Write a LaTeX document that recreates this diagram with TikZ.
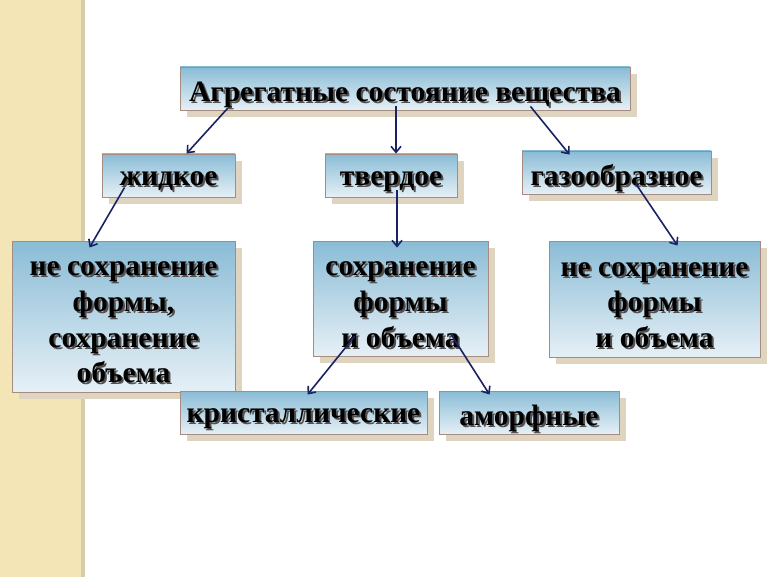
\documentclass[tikz,border=0pt]{standalone}
\usepackage{fontspec}
\setmainfont{Liberation Serif}
\usepackage{xcolor}
\usetikzlibrary{arrows, arrows.meta, shadows, positioning}

\definecolor{stripe}{RGB}{243,229,182}
\definecolor{stripeline}{RGB}{214,206,170}
\definecolor{boxtop}{RGB}{138,188,214}
\definecolor{boxbottom}{RGB}{230,240,246}
\definecolor{boxline}{RGB}{165,140,128}
\definecolor{boxshadow}{RGB}{222,212,192}
\definecolor{arrowcol}{RGB}{25,35,100}
\definecolor{txtshadow}{RGB}{85,80,80}

% text with a dark offset shadow, set a little low in its box
\newcommand{\shtxt}[1]{\raisebox{-7pt}[\height][\depth]{\rlap{\hspace{2pt}\raisebox{-2pt}{\textcolor{txtshadow}{#1}}}#1}}

\tikzset{
    statebox/.style={draw=boxline, line width=0.9pt, top color=boxtop, bottom color=boxbottom,
        drop shadow={shadow xshift=7pt, shadow yshift=-7pt, fill=boxshadow, opacity=1},
        align=center, inner sep=0pt, font=\fontsize{29.5}{35.7}\selectfont\bfseries},
    arr/.style={-{Straight Barb[length=6pt,width=10pt]}, draw=arrowcol, line width=1.6pt}
}

\begin{document}
\begin{tikzpicture}[x=1pt, y=-1pt]
    \useasboundingbox (0,0) rectangle (770,577);
    \fill[stripe] (0,0) rectangle (81,577);
    \fill[stripeline] (81,0) rectangle (85,577);

    \node[statebox, minimum width=450pt, minimum height=43pt] (title) at (405,88.5) {\shtxt{Агрегатные состояние вещества}};
    \node[statebox, minimum width=133pt, minimum height=43pt] (zhid) at (168.5,175.5) {\shtxt{жидкое}};
    \node[statebox, minimum width=132pt, minimum height=43pt] (tverd) at (391,175.5) {\shtxt{твердое}};
    \node[statebox, minimum width=189pt, minimum height=43pt] (gaz) at (616.5,172.5) {\shtxt{газообразное}};

    \node[statebox, minimum width=223pt, minimum height=151pt] (zhidprop) at (123.5,316.5)
        {\shtxt{не сохранение}\\ \shtxt{формы,}\\ \shtxt{сохранение}\\ \shtxt{объема}};
    \node[statebox, minimum width=175pt, minimum height=115pt] (tverdprop) at (400.5,298.5)
        {\shtxt{сохранение}\\ \shtxt{формы}\\ \shtxt{и объема}};
    \node[statebox, minimum width=211pt, minimum height=116pt] (gazprop) at (654.5,299)
        {\shtxt{не сохранение}\\ \shtxt{формы}\\ \shtxt{и объема}};

    \node[statebox, minimum width=247pt, minimum height=43pt] (krist) at (303.5,412.5) {\shtxt{кристаллические}};
    \node[statebox, minimum width=180pt, minimum height=43pt] (amorf) at (529,412.5) {\shtxt{аморфные}};

    \draw
    ([xshift=48pt,yshift=2pt]title.south west) edge[arr] ([xshift=85pt]zhid.north west)
    ([xshift=-9pt,yshift=4pt]title.south) edge[arr] ([xshift=5pt]tverd.north)
    ([xshift=-100pt,yshift=4pt]title.south east) edge[arr] ([xshift=48pt,yshift=-4pt]gaz.north west)
    ([xshift=23pt,yshift=10pt]zhid.south west) edge[arr] ([xshift=78pt,yshift=-7pt]zhidprop.north west)
    ([xshift=6pt,yshift=7pt]tverd.south) edge[arr] ([xshift=-3.5pt,yshift=-7pt]tverdprop.north)
    ([xshift=114pt,yshift=11pt]gaz.south west) edge[arr] ([xshift=129pt,yshift=-5pt]gazprop.north west)
    ([xshift=42pt,yshift=20pt]tverdprop.south west) edge[arr] ([xshift=128pt,yshift=-4pt]krist.north west)
    ([xshift=-38pt,yshift=23pt]tverdprop.south east) edge[arr] ([xshift=51pt,yshift=-4pt]amorf.north west);
\end{tikzpicture}
\end{document}
